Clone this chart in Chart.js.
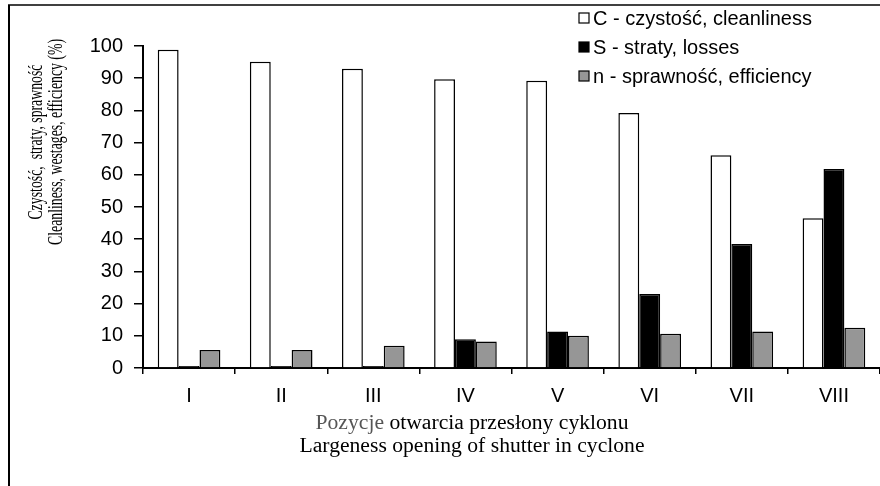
<!DOCTYPE html>
<html>
<head>
<meta charset="utf-8">
<script src="https://cdn.jsdelivr.net/npm/chart.js@4"></script>
<style>
  body { margin: 0; background: #fff; }
  #wrap { width: 880px; height: 486px; position: relative; }
</style>
</head>
<body>
<div id="wrap"><canvas id="cyclone"></canvas></div>
<script>
// categories - shutter positions
var positions = ['I', 'II', 'III', 'IV', 'V', 'VI', 'VII', 'VIII'];

// values (%)
var cleanliness = [98.8, 95.1, 92.9, 89.7, 89.2, 79.2, 66.1, 46.5];
var losses = [0.6, 0.6, 0.6, 8.9, 11.3, 23.0, 38.5, 61.8];
var efficiency = [5.6, 5.6, 6.9, 8.2, 10.0, 10.6, 11.3, 12.5];

var yTicks = [0, 10, 20, 30, 40, 50, 60, 70, 80, 90, 100];

var seriesLabels = ['C - czystość, cleanliness', 'S - straty, losses', 'n - sprawność, efficiency'];
var yTitle = ['Czystość,  straty, sprawność', 'Cleanliness, westages, efficiency (%)'];
var xTitle1 = ['Pozycje', ' otwarcia przesłony cyklonu'];
var xTitle2 = 'Largeness opening of shutter in cyclone';

var sans = '"Liberation Sans", Arial, sans-serif';
var serif = '"Liberation Serif", "Times New Roman", serif';

// white page + outer frame
var framePlugin = {
    id: 'frame',
    beforeDraw: function (chart) {
        var ctx = chart.ctx;
        ctx.save();
        ctx.fillStyle = '#fff';
        ctx.fillRect(0, 0, chart.width, chart.height);
        ctx.strokeStyle = '#000';
        ctx.lineWidth = 2;
        ctx.beginPath();
        ctx.moveTo(9, chart.height);
        ctx.lineTo(9, 5);
        ctx.stroke();
        ctx.lineWidth = 1.5;
        ctx.beginPath();
        ctx.moveTo(8, 5);
        ctx.lineTo(chart.width, 5);
        ctx.stroke();
        ctx.restore();
    }
};

// legend top right, one item per line
var legendPlugin = {
    id: 'cornerLegend',
    afterDraw: function (chart) {
        var ctx = chart.ctx;
        ctx.save();
        ctx.font = '20px ' + sans;
        ctx.textBaseline = 'middle';
        chart.data.datasets.forEach(function (ds, i) {
            var y = 18 + i * 29;
            ctx.fillStyle = ds.backgroundColor;
            ctx.fillRect(579, y - 5, 10, 10);
            ctx.strokeStyle = '#000';
            ctx.lineWidth = 1.2;
            ctx.strokeRect(579, y - 5, 10, 10);
            ctx.fillStyle = '#000';
            ctx.fillText(ds.label, 593, y + 1);
        });
        ctx.restore();
    }
};

// axis titles
var titlesPlugin = {
    id: 'axisTitles',
    afterDraw: function (chart) {
        var ctx = chart.ctx;
        ctx.save();
        // y title, rotated and squeezed along the text
        ctx.font = '20px ' + serif;
        ctx.fillStyle = '#000';
        ctx.textAlign = 'center';
        ctx.textBaseline = 'middle';
        var squeeze = 206 / ctx.measureText(yTitle[1]).width;
        yTitle.forEach(function (line, i) {
            ctx.save();
            ctx.translate(37 + i * 20, 142);
            ctx.rotate(-Math.PI / 2);
            ctx.scale(squeeze, 1);
            ctx.fillText(line, 0, 0);
            ctx.restore();
        });

        // x title, stretched a little like the original
        ctx.font = '20px ' + serif;
        ctx.textBaseline = 'alphabetic';
        ctx.textAlign = 'left';
        var stretch = 345 / ctx.measureText(xTitle2).width;
        var w1 = ctx.measureText(xTitle1[0]).width;
        var w2 = ctx.measureText(xTitle1[1]).width;
        ctx.save();
        ctx.translate(472, 0);
        ctx.scale(stretch, 1);
        var x0 = -(w1 + w2) / 2;
        ctx.fillStyle = '#555';
        ctx.fillText(xTitle1[0], x0, 429);
        ctx.fillStyle = '#000';
        ctx.fillText(xTitle1[1], x0 + w1, 429);
        ctx.textAlign = 'center';
        ctx.fillText(xTitle2, 0, 452);
        ctx.restore();
        ctx.restore();
    }
};

new Chart(document.getElementById('cyclone'), {
    type: 'bar',
    data: {
        labels: positions,
        datasets: [{
            label: seriesLabels[0],
            data: cleanliness,
            backgroundColor: '#ffffff',
            borderColor: '#000',
            borderWidth: 1.5
        }, {
            label: seriesLabels[1],
            data: losses,
            backgroundColor: '#000000',
            borderColor: '#000',
            borderWidth: 1.5
        }, {
            label: seriesLabels[2],
            data: efficiency,
            backgroundColor: '#969696',
            borderColor: '#000',
            borderWidth: 1.5
        }]
    },
    options: {
        responsive: true,
        maintainAspectRatio: false,
        animation: false,
        layout: { padding: { top: 46, right: 0, left: 0, bottom: 0 } },
        datasets: {
            bar: { categoryPercentage: 0.68, barPercentage: 1.0 }
        },
        plugins: {
            legend: { display: false },
            tooltip: { enabled: false }
        },
        scales: {
            x: {
                offset: true,
                grid: {
                    offset: true,
                    drawOnChartArea: false,
                    tickLength: 6,
                    color: '#000',
                    lineWidth: 1.5
                },
                border: { color: '#000', width: 2 },
                ticks: {
                    color: '#000',
                    padding: 10,
                    font: { family: sans, size: 20 }
                },
                afterFit: function (scale) { scale.height = 118; }
            },
            y: {
                min: 0,
                max: 100,
                afterBuildTicks: function (scale) {
                    scale.ticks = yTicks.map(function (v) { return { value: v }; });
                },
                grid: {
                    drawOnChartArea: false,
                    tickLength: 9,
                    color: '#000',
                    lineWidth: 1.5
                },
                border: { color: '#000', width: 2 },
                ticks: {
                    color: '#000',
                    padding: 11,
                    font: { family: sans, size: 20 }
                },
                afterFit: function (scale) { scale.width = 143; }
            }
        }
    },
    plugins: [framePlugin, legendPlugin, titlesPlugin]
});
</script>
</body>
</html>
